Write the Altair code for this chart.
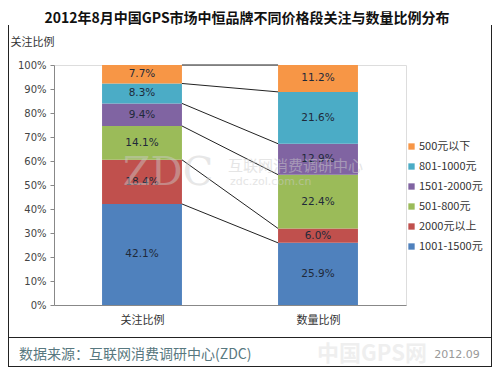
import altair as alt
import pandas as pd
from itertools import accumulate

# ---------------- data ----------------
title_text = "2012年8月中国GPS市场中恒品牌不同价格段关注与数量比例分布"
y_title = "关注比例"
periods = ["关注比例", "数量比例"]
# segments from bottom to top of each stacked column
segments = ["1001-1500元", "2000元以上", "501-800元", "1501-2000元", "801-1000元", "500元以下"]
attention = [42.1, 18.4, 14.1, 9.4, 8.3, 7.7]
quantity = [25.9, 6.0, 22.4, 12.9, 21.6, 11.2]
colors = ["#4F81BD", "#C0504D", "#9BBB59", "#8064A2", "#4BACC6", "#F79646"]
y_ticks = list(range(0, 101, 10))
source_text = "数据来源：互联网消费调研中心(ZDC)"
date_text = "2012.09"
wm_big = "ZDC"
wm_cn = "互联网消费调研中心"
wm_url = "zdc.zol.com.cn"
wm_footer = "中国GPS网"

# ---------------- layout / style ----------------
W, H = 352, 240
HALF = 0.227  # half bar width in category units
FONT = "Noto Sans CJK SC"
NUMFONT = "DejaVu Sans"

rows = []
for i, (p, vals) in enumerate(zip(periods, [attention, quantity])):
    for r, (s, v) in enumerate(zip(segments, vals)):
        rows.append({"period": p, "idx": i, "segment": s, "rank": r, "value": v})
df = pd.DataFrame(rows)

cum_left = list(accumulate(attention))
cum_right = list(accumulate(quantity))
lines_df = pd.DataFrame({"yl": cum_left, "yr": cum_right,
                         "xl": [0 + 0.5 + HALF] * len(cum_left),
                         "xr": [1 + 0.5 - HALF] * len(cum_right)})

legend_order = segments[::-1]
legend_colors = colors[::-1]

x_scale = alt.Scale(domain=[0, 2], nice=False, zero=False)
y_scale = alt.Scale(domain=[0, 100], nice=False)

label_expr = " : ".join(
    [f"datum.value < {i + 1} ? '{p}'" for i, p in enumerate(periods[:-1])] + [f"'{periods[-1]}'"]
)

x_axis = alt.Axis(values=[0.5, 1.5], labelExpr=label_expr, title=None, ticks=False,
                  grid=False, labelFont=FONT, labelFontSize=11, labelColor="#333",
                  labelPadding=9, domainColor="#888")
y_axis = alt.Axis(values=y_ticks, labelExpr="datum.value + '%'", grid=False,
                  labelOverlap=False, labelFlush=False,
                  title=y_title, titleAngle=0, titleAlign="left", titleBaseline="middle",
                  titleX=-44, titleY=-23, titleFont=FONT, titleFontSize=11,
                  titleFontWeight="normal", titleColor="#333",
                  labelFont=NUMFONT, labelFontSize=10, labelColor="#444",
                  tickSize=4, tickColor="#888", domainColor="#888", labelPadding=4)

base = alt.Chart(df).transform_stack(
    stack="value", groupby=["period"], sort=[alt.SortField("rank", order="ascending")],
    as_=["y0", "y1"]
).transform_calculate(
    xl=f"datum.idx + 0.5 - {HALF}",
    xr=f"datum.idx + 0.5 + {HALF}",
    xc="datum.idx + 0.5",
    ym="(datum.y0 + datum.y1) / 2",
    lab="format(datum.value, '.1f') + '%'",
)

bars = base.mark_bar().encode(
    x=alt.X("xl:Q", scale=x_scale, axis=x_axis),
    x2="xr:Q",
    y=alt.Y("y0:Q", scale=y_scale, axis=y_axis),
    y2="y1:Q",
    color=alt.Color("segment:N",
                    scale=alt.Scale(domain=legend_order, range=legend_colors),
                    legend=alt.Legend(title=None, orient="none", legendX=352, legendY=76,
                                      symbolType="square", symbolSize=40, symbolStrokeWidth=0,
                                      labelFont=FONT, labelFontSize=11, labelColor="#333",
                                      rowPadding=8, labelOffset=2)),
)

labels = base.mark_text(font=NUMFONT, fontSize=10.5, color="#1f2a3a").encode(
    x=alt.X("xc:Q", scale=x_scale, axis=x_axis),
    y=alt.Y("ym:Q", scale=y_scale, axis=y_axis),
    text="lab:N",
)

connectors = alt.Chart(lines_df).mark_rule(color="#222", strokeWidth=1).encode(
    x=alt.X("xl:Q", scale=x_scale, axis=x_axis), x2="xr:Q",
    y=alt.Y("yl:Q", scale=y_scale, axis=y_axis), y2="yr:Q",
)


def deco_text(txt, x, y, **kw):
    return alt.Chart(pd.DataFrame({"t": [txt]})).mark_text(**kw).encode(
        text="t:N", x=alt.value(x), y=alt.value(y))


title = deco_text(title_text, 193, -46, font=FONT, fontSize=14, fontWeight="bold",
                  color="#111", align="center", baseline="middle")
wm1 = deco_text(wm_big, 114, 108, font="DejaVu Serif", fontSize=40, color="#cccccc",
                opacity=0.45, align="center", baseline="middle")
wm2 = deco_text(wm_cn, 174, 101, font=FONT, fontSize=15, color="#cccccc",
                opacity=0.5, align="left", baseline="middle")
wm3 = deco_text(wm_url, 176, 117, font=NUMFONT, fontSize=11, color="#cccccc",
                opacity=0.5, align="left", baseline="middle")
wm_foot = deco_text(wm_footer, 318, 289, font=FONT, fontSize=22, fontWeight="bold",
                    color="#efefef", align="center", baseline="middle")
source = deco_text(source_text, -35, 290, font=FONT, fontSize=14, color="#587880",
                   align="left", baseline="middle")
date = deco_text(date_text, 403, 290, font=NUMFONT, fontSize=11, color="#999",
                 align="center", baseline="middle")

one = pd.DataFrame({"a": [0]})
divider = alt.Chart(one).mark_rule(color="#222", strokeWidth=1).encode(
    x=alt.value(-46), x2=alt.value(438), y=alt.value(272.5), y2=alt.value(272.5))
frame_l = alt.Chart(one).mark_rule(color="#222", strokeWidth=1).encode(
    x=alt.value(-45.5), x2=alt.value(-45.5), y=alt.value(-40), y2=alt.value(302))
frame_r = alt.Chart(one).mark_rule(color="#222", strokeWidth=1).encode(
    x=alt.value(437.5), x2=alt.value(437.5), y=alt.value(-40), y2=alt.value(302))
frame_b = alt.Chart(one).mark_rule(color="#222", strokeWidth=1).encode(
    x=alt.value(-46), x2=alt.value(438), y=alt.value(301.5), y2=alt.value(301.5))

chart = alt.layer(
    bars, connectors, labels, wm1, wm2, wm3, title, wm_foot, source, date,
    divider, frame_l, frame_r, frame_b,
).properties(
    width=W, height=H,
    autosize=alt.AutoSizeParams(type="none"),
    padding={"left": 46, "top": 57, "right": 86, "bottom": 62},
).configure_view(stroke="#888", strokeWidth=1).configure(background="white")

chart.save("out.html", embed_options={"renderer": "svg", "actions": False})
